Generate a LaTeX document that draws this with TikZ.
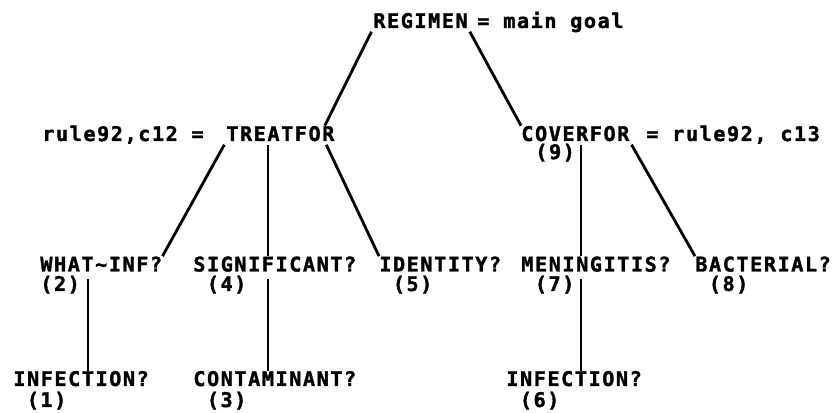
\documentclass[tikz,border=0pt]{standalone}
\usepackage{fontspec}
\newfontfamily\qfont[LetterSpace=7.6, FakeBold=1.5]{DejaVu Sans Mono Bold}
\usepackage{tikz}
\usetikzlibrary{positioning}
\newcommand{\halfch}{0.137cm}

\begin{document}
\begin{tikzpicture}[
  txt/.style={font=\qfont\fontsize{11.5}{13}\selectfont, inner sep=0pt, anchor=base west},
  link/.style={line width=1.6pt, shorten <=2pt}]
\useasboundingbox (0,0) rectangle (16.66,8.26);
% main goal
\node[txt] (regimen) at (7.46,7.70) {REGIMEN};
\node[txt] (goal) at (9.54,7.70) {= main goal};
% rules 92
\node[txt] (rule12) at (0.84,5.44) {rule92,c12 =};
\node[txt] (treat) at (4.52,5.44) {TREATFOR};
\node[txt] (cover) at (10.42,5.44) {COVERFOR};
\node[txt] (rule13) at (12.92,5.44) {= rule92, c13};
\node[txt] (n9) at (10.70,5.08) {(9)};
% questions
\node[txt] (whatinf) at (0.80,2.83) {WHAT\string~INF?};
\node[txt] (signif) at (3.86,2.83) {SIGNIFICANT?};
\node[txt] (identity) at (7.58,2.83) {IDENTITY?};
\node[txt] (mening) at (10.42,2.83) {MENINGITIS?};
\node[txt] (bact) at (13.90,2.83) {BACTERIAL?};
\node[txt] (n2) at (0.80,2.44) {(2)};
\node[txt] (n4) at (4.13,2.44) {(4)};
\node[txt] (n5) at (7.85,2.44) {(5)};
\node[txt] (n7) at (10.69,2.44) {(7)};
\node[txt] (n8) at (14.17,2.44) {(8)};
\node[txt] (inf1) at (0.26,0.54) {INFECTION?};
\node[txt] (contam) at (3.86,0.54) {CONTAMINANT?};
\node[txt] (inf6) at (10.12,0.54) {INFECTION?};
\node[txt] (n1) at (0.53,0.12) {(1)};
\node[txt] (n3) at (4.13,0.12) {(3)};
\node[txt] (n6) at (10.39,0.12) {(6)};
% tree
\draw[link] (regimen.south west) -- ([xshift=-0.2cm]treat.north east);
\draw[link] (regimen.south east) -- (cover.north west);
\draw[link] (treat.south west) -- (whatinf.north east);
\draw[link] ([xshift=-\halfch]signif.north |- treat.south) -- ([xshift=-\halfch]signif.north);
\draw[link] ([xshift=-0.2cm]treat.south east) -- (identity.north west);
\draw[link] ([xshift=\halfch]inf6.north |- cover.south) -- ([xshift=\halfch]inf6.north |- mening.north);
\draw[link] (cover.south east) -- (bact.north west);
\draw[link] ([xshift=\halfch]inf1.north |- n2.north) -- ([xshift=\halfch]inf1.north);
\draw[link] ([xshift=-\halfch]contam.north |- n4.north) -- ([xshift=-\halfch]contam.north);
\draw[link] ([xshift=\halfch]inf6.north |- n7.north) -- ([xshift=\halfch]inf6.north);
\end{tikzpicture}
\end{document}
